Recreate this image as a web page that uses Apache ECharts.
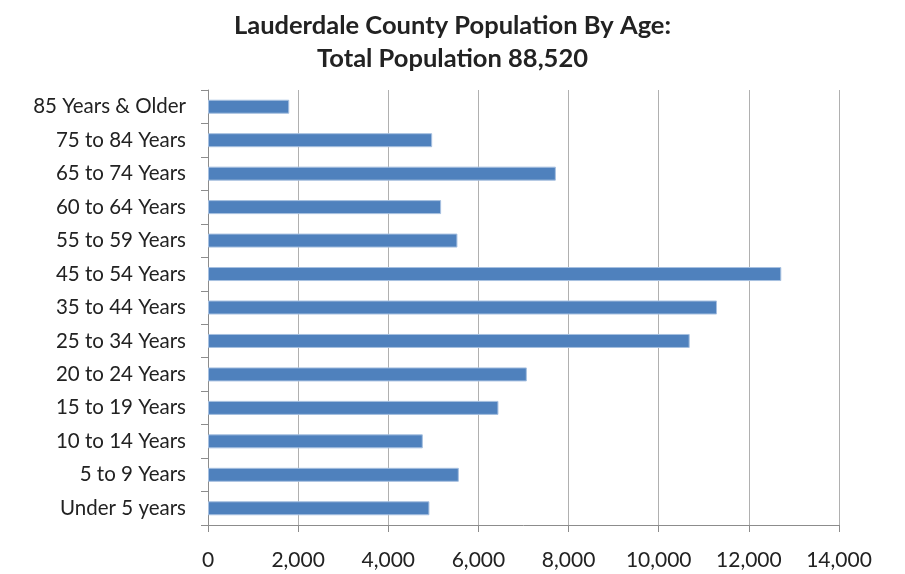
<!DOCTYPE html>
<html>
<head>
<meta charset="utf-8">
<script src="https://cdn.jsdelivr.net/npm/echarts@6/dist/echarts.min.js"></script>
<style>
  html, body { margin: 0; padding: 0; background: #fff; }
  #chart { width: 905px; height: 574px; }
</style>
</head>
<body>
<div id="chart"></div>
<script>
// age groups, bottom to top as drawn
const ageGroups = [
  "Under 5 years", "5 to 9 Years", "10 to 14 Years", "15 to 19 Years",
  "20 to 24 Years", "25 to 34 Years", "35 to 44 Years", "45 to 54 Years",
  "55 to 59 Years", "60 to 64 Years", "65 to 74 Years", "75 to 84 Years",
  "85 Years & Older"
];
const population = [
  4913, 5565, 4766, 6444,
  7074, 10687, 11293, 12720,
  5534, 5172, 7718, 4974,
  1803
];
const titleLines = ["Lauderdale County Population By Age:", "Total Population 88,520"];

const font = "Lato, 'Open Sans', sans-serif";
const chart = echarts.init(document.getElementById("chart"));
chart.setOption({
  animation: false,
  title: {
    text: titleLines.join("\n"),
    left: "center",
    top: 4,
    textStyle: {
      fontFamily: font,
      fontSize: 25.5,
      fontWeight: "bold",
      color: "#222",
      lineHeight: 33
    }
  },
  grid: {
    left: 208,
    right: 66,
    top: 90,
    bottom: 49
  },
  xAxis: {
    type: "value",
    min: 0,
    max: 14000,
    interval: 2000,
    axisLine: { show: true, lineStyle: { color: "#8c8c8c", width: 1 } },
    axisTick: { show: true, length: 7, lineStyle: { color: "#8c8c8c" } },
    splitLine: { show: true, lineStyle: { color: "#b0b0b0", width: 1 } },
    axisLabel: {
      margin: 25,
      fontFamily: font,
      fontSize: 21,
      color: "#222",
      formatter: v => v.toLocaleString("en-US")
    }
  },
  yAxis: {
    type: "category",
    data: ageGroups,
    axisLine: { show: true, lineStyle: { color: "#8c8c8c", width: 1 } },
    axisTick: { show: true, length: 7, lineStyle: { color: "#8c8c8c" } },
    axisLabel: {
      margin: 22,
      fontFamily: font,
      fontSize: 20.5,
      color: "#222"
    }
  },
  series: [
    {
      type: "bar",
      data: population,
      barWidth: 14,
      itemStyle: {
        color: "#4f81bd",
        borderColor: "#a7c0e0",
        borderWidth: 1
      }
    }
  ]
});
</script>
</body>
</html>
